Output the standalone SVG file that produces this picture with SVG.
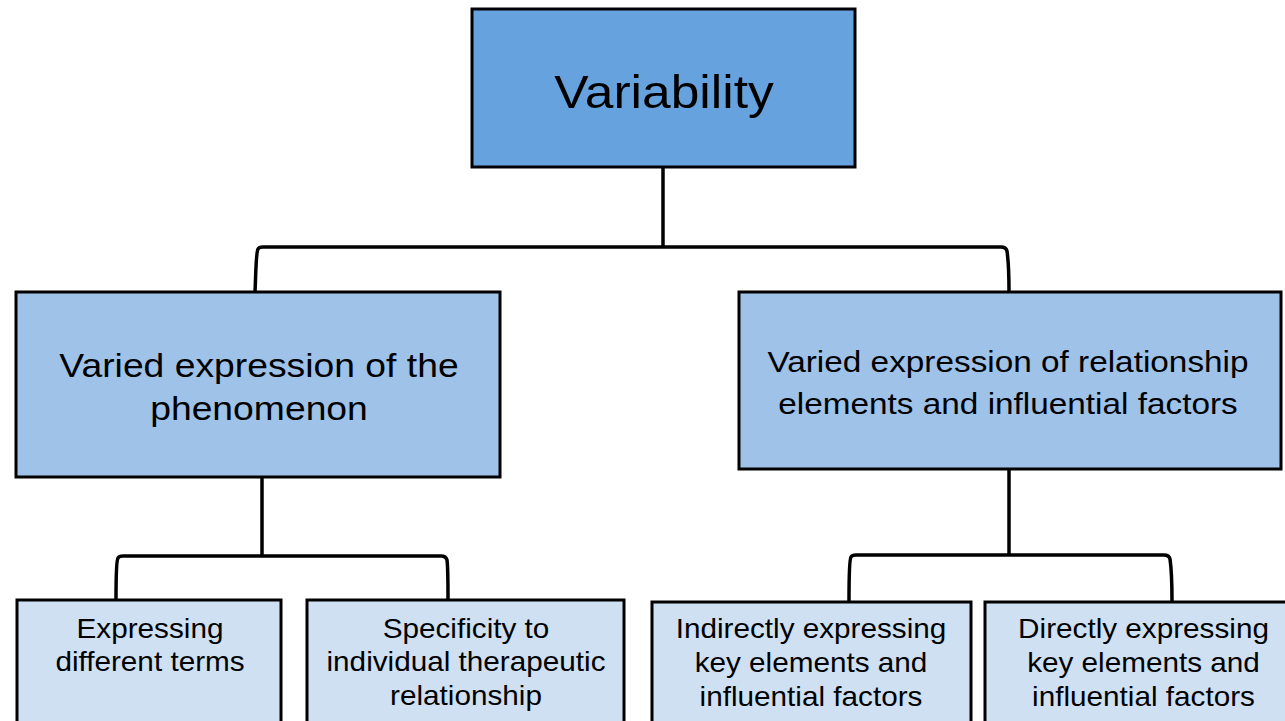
<svg xmlns="http://www.w3.org/2000/svg" width="1285" height="721" viewBox="0 0 1285 721">
  <style>
    .box { stroke: #000; stroke-width: 3; }
    .lvl0 { fill: #66a2de; }
    .lvl1 { fill: #9fc2e8; }
    .lvl2 { fill: #cfe0f3; }
    .link { fill: none; stroke: #000; stroke-width: 3.5; stroke-linejoin: round; }
    text { font-family: "Liberation Sans", Arial, sans-serif; fill: #000; text-anchor: middle; }
    .t0 { font-size: 46px; }
    .t1 { font-size: 33px; }
    .t1r { font-size: 29.5px; }
    .t2 { font-size: 27px; }
  </style>
  <rect width="1285" height="721" fill="#fff"/>

  <g id="connectors">
    <path class="link" d="M663 167 V247"/>
    <path class="link" d="M255 292 C256 270 256 252 258 249 Q259 247 263 247 H1001 Q1006 247 1007 251 C1008 258 1009 272 1009 292"/>
    <path class="link" d="M262 477 V556"/>
    <path class="link" d="M116 600 C116 580 116 561 118 558 Q119 556 123 556 H441 Q446 556 447 560 C448 567 448 582 448 600"/>
    <path class="link" d="M1009 469 V555"/>
    <path class="link" d="M849 601 C849 580 849 560 851 557 Q852 555 856 555 H1164 Q1169 555 1170 559 C1171 566 1172 581 1172 601"/>
  </g>

  <!-- text is widened horizontally with a scale about each box centre -->
  <g id="variability">
    <rect class="box lvl0" x="472" y="9" width="383" height="158"/>
    <text class="t0" transform="matrix(1.12 0 0 1 664 108)">Variability</text>
  </g>

  <g id="phenomenon">
    <rect class="box lvl1" x="16" y="292" width="484" height="185"/>
    <text class="t1" transform="matrix(1.13 0 0 1 259 377)">Varied expression of the</text>
    <text class="t1" transform="matrix(1.13 0 0 1 259 420)">phenomenon</text>
  </g>

  <g id="relationship-elements">
    <rect class="box lvl1" x="739" y="292" width="542" height="177"/>
    <text class="t1r" transform="matrix(1.13 0 0 1 1008 372)">Varied expression of relationship</text>
    <text class="t1r" transform="matrix(1.13 0 0 1 1008 414)">elements and influential factors</text>
  </g>

  <g id="different-terms">
    <rect class="box lvl2" x="17" y="600" width="264" height="130"/>
    <text class="t2" transform="matrix(1.1 0 0 1 150 638)">Expressing</text>
    <text class="t2" transform="matrix(1.1 0 0 1 150 671)">different terms</text>
  </g>

  <g id="specificity">
    <rect class="box lvl2" x="307" y="600" width="317" height="130"/>
    <text class="t2" transform="matrix(1.1 0 0 1 466 638)">Specificity to</text>
    <text class="t2" transform="matrix(1.1 0 0 1 466 671)">individual therapeutic</text>
    <text class="t2" transform="matrix(1.1 0 0 1 466 705)">relationship</text>
  </g>

  <g id="indirectly-expressing">
    <rect class="box lvl2" x="652" y="602" width="319" height="130"/>
    <text class="t2" transform="matrix(1.1 0 0 1 811 638)">Indirectly expressing</text>
    <text class="t2" transform="matrix(1.1 0 0 1 811 672)">key elements and</text>
    <text class="t2" transform="matrix(1.1 0 0 1 811 706)">influential factors</text>
  </g>

  <g id="directly-expressing">
    <rect class="box lvl2" x="985" y="602" width="320" height="130"/>
    <text class="t2" transform="matrix(1.1 0 0 1 1143.5 638)">Directly expressing</text>
    <text class="t2" transform="matrix(1.1 0 0 1 1143.5 672)">key elements and</text>
    <text class="t2" transform="matrix(1.1 0 0 1 1143.5 706)">influential factors</text>
  </g>
</svg>
